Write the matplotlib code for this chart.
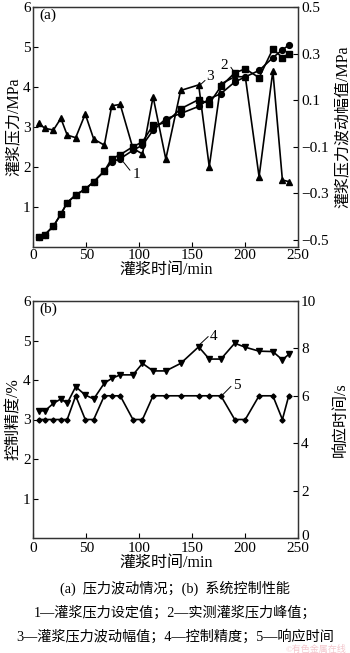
import matplotlib
matplotlib.use("Agg")
import matplotlib.pyplot as plt
import matplotlib.transforms as mtransforms
from matplotlib.ticker import FixedLocator

plt.rcParams['font.family'] = ['Liberation Serif', 'Noto Sans CJK SC', 'DejaVu Sans']
plt.rcParams['axes.unicode_minus'] = True

# ---- data ----
t = [5, 11, 19, 26, 32, 40, 49, 57, 67, 74, 82, 94, 103, 113, 125, 139, 156, 166, 177, 190, 200, 213, 226, 235, 241]
set_pressure = [0.25, 0.30, 0.51, 0.81, 1.10, 1.29, 1.44, 1.62, 1.89, 2.12, 2.20, 2.41, 2.54, 2.91, 3.20, 3.33, 3.51, 3.70, 3.83, 4.12, 4.25, 4.41, 4.73, 4.93, 5.04]
peak_pressure = [0.25, 0.30, 0.51, 0.81, 1.10, 1.29, 1.44, 1.62, 1.89, 2.20, 2.30, 2.50, 2.62, 3.04, 3.10, 3.45, 3.68, 3.58, 4.01, 4.35, 4.45, 4.23, 4.95, 4.73, 4.83]
fluct_amp = [0.00, -0.022, -0.029, 0.021, -0.051, -0.062, 0.040, -0.068, -0.094, 0.075, 0.081, -0.108, -0.132, 0.114, -0.154, 0.141, 0.165, -0.187, 0.169, 0.20, 0.20, -0.230, 0.225, -0.244, -0.251]
precision = [3.22, 3.22, 3.41, 3.52, 3.41, 3.83, 3.62, 3.52, 3.92, 4.04, 4.13, 4.13, 4.42, 4.23, 4.23, 4.42, 4.84, 4.53, 4.53, 4.93, 4.83, 4.73, 4.72, 4.51, 4.65]
response = [5, 5, 5, 5, 5, 6, 5, 5, 6, 6, 6, 5, 5, 6, 6, 6, 6, 6, 6, 5, 5, 6, 6, 5, 6]

x_ticks = [0, 50, 100, 150, 200, 250]
ya_left_ticks = [1, 2, 3, 4, 5, 6]
ya_right_ticks = [-0.5, -0.3, -0.1, 0.1, 0.3, 0.5]
ya_right_labels = ['−0.5', '−0.3', '−0.1', '0.1', '0.3', '0.5']
yb_left_ticks = [1, 2, 3, 4, 5, 6]
yb_right_ticks = [0, 2, 4, 6, 8, 10]

fig = plt.figure(figsize=(3.5, 6.53), dpi=100)
W, H = 350, 653

def axes_px(x0, x1, ytop, ybot):
    return fig.add_axes([x0 / W, 1 - ybot / H, (x1 - x0) / W, (ybot - ytop) / H])

frame_col = '#333333'
tick_fs = 11
lab_fs = 11.5
lw = 1.2

def style(ax):
    for s in ax.spines.values():
        s.set_color(frame_col)
        s.set_linewidth(0.9)
    ax.tick_params(direction='in', length=3.5, width=0.8, labelsize=tick_fs, pad=2, colors='black')

arr = dict(arrowstyle='-', color='black', lw=0.7, shrinkA=0, shrinkB=0)

# ---- panel (a) ----
axa = axes_px(33.3, 298.3, 7, 246.5)
axa.plot(t, set_pressure, '-o', color='black', lw=lw, ms=4.2)
axa.plot(t, peak_pressure, '-s', color='black', lw=lw, ms=4.2)
axa.set_xlim(0, 250)
axa.set_ylim(0, 6)
axa.xaxis.set_major_locator(FixedLocator(x_ticks))
axa.yaxis.set_major_locator(FixedLocator(ya_left_ticks))
axa.set_xlabel('灌浆时间/min', fontsize=lab_fs, labelpad=0)
axa.set_ylabel('灌浆压力/MPa', fontsize=lab_fs, labelpad=1)
style(axa)
axa2 = axa.twinx()
axa2.plot(t, fluct_amp, '-^', color='black', lw=lw, ms=3.8)
axa2.set_ylim(-0.53, 0.5)
axa2.yaxis.set_major_locator(FixedLocator(ya_right_ticks))
axa2.set_yticklabels(ya_right_labels)
axa2.set_ylabel('灌浆压力波动幅值/MPa', fontsize=lab_fs, labelpad=4)
style(axa2)
axa.text(0.055, 0.965, '(a)', transform=axa.transAxes, fontsize=tick_fs, ha='center', va='center')
axa.annotate('', xy=(84.9, 2.12), xytext=(91.2, 1.91), arrowprops=arr)
axa.text(97.5, 1.80, '1', fontsize=tick_fs, ha='center', va='center')
axa.annotate('', xy=(190.3, 4.34), xytext=(186.4, 4.49), arrowprops=arr)
axa.text(180, 4.53, '2', fontsize=tick_fs, ha='center', va='center')
axa.annotate('', xy=(156.3, 4.02), xytext=(162, 4.16), arrowprops=arr)
axa.text(166.7, 4.26, '3', fontsize=tick_fs, ha='center', va='center')

# ---- panel (b) ----
axb = axes_px(33.3, 298.3, 301, 538)
axb.plot(t, precision, '-v', color='black', lw=lw, ms=3.8)
axb.set_xlim(0, 250)
axb.set_ylim(0, 6)
axb.xaxis.set_major_locator(FixedLocator(x_ticks))
axb.yaxis.set_major_locator(FixedLocator(yb_left_ticks))
axb.set_xlabel('灌浆时间/min', fontsize=lab_fs, labelpad=0)
axb.set_ylabel('控制精度/%', fontsize=lab_fs, labelpad=1)
style(axb)
axb.tick_params(axis='x', pad=3)
axb2 = axb.twinx()
axb2.plot(t, response, '-D', color='black', lw=lw, ms=2.6)
axb2.set_ylim(0, 10)
axb2.yaxis.set_major_locator(FixedLocator(yb_right_ticks))
axb2.set_ylabel('响应时间/s', fontsize=lab_fs, labelpad=12)
style(axb2)
fig.canvas.draw()
lbl0 = axb2.get_yticklabels()[0]
lbl0.set_transform(lbl0.get_transform() + mtransforms.ScaledTranslation(0, 3 / 100, fig.dpi_scale_trans))
axb.text(0.055, 0.965, '(b)', transform=axb.transAxes, fontsize=tick_fs, ha='center', va='center')
axb.annotate('', xy=(154.7, 4.84), xytext=(165, 5.10), arrowprops=arr)
axb.text(170, 5.10, '4', fontsize=tick_fs, ha='center', va='center')
axb2.annotate('', xy=(177.7, 6.0), xytext=(186.5, 6.4), arrowprops=arr)
axb2.text(192, 6.45, '5', fontsize=tick_fs, ha='center', va='center')

# ---- caption ----
cap_fs = 10.2
fig.text(0.5, 1 - 588 / H, '(a)  压力波动情况；(b)  系统控制性能', ha='center', va='center', fontsize=cap_fs)
fig.text(0.5, 1 - 613 / H, '1—灌浆压力设定值；2—实测灌浆压力峰值；', ha='center', va='center', fontsize=cap_fs)
fig.text(0.5, 1 - 637 / H, '3—灌浆压力波动幅值；4—控制精度；5—响应时间', ha='center', va='center', fontsize=cap_fs)
fig.text(1 - 4 / W, 1 - 649 / H, '©有色金属在线', ha='right', va='center', fontsize=6.5, color='#f3c6cc')

fig.savefig('out.png', dpi=100)
